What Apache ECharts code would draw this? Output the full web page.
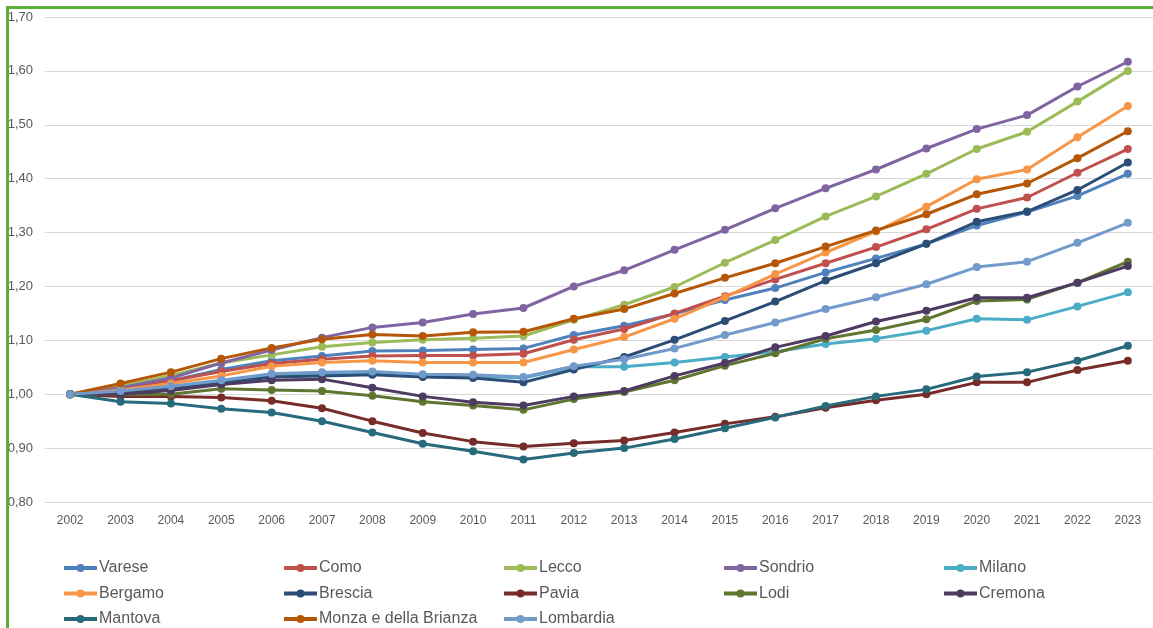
<!DOCTYPE html>
<html>
<head>
<meta charset="utf-8">
<script src="https://cdn.jsdelivr.net/npm/echarts@6/dist/echarts.min.js"></script>
<style>
  html, body { margin: 0; padding: 0; background: #fff; }
  #chart { width: 1153px; height: 628px; }
</style>
</head>
<body>
<div id="chart"></div>
<script>
// Indice della popolazione residente (2002 = 1,00) per provincia lombarda
const years = ['2002','2003','2004','2005','2006','2007','2008','2009','2010','2011','2012',
               '2013','2014','2015','2016','2017','2018','2019','2020','2021','2022','2023'];

const varese    = [1.000,1.010,1.025,1.046,1.062,1.071,1.080,1.081,1.083,1.085,1.110,1.127,1.149,1.175,1.197,1.226,1.252,1.279,1.313,1.338,1.368,1.409];
const como      = [1.000,1.012,1.025,1.042,1.057,1.065,1.071,1.072,1.072,1.075,1.101,1.121,1.150,1.182,1.213,1.243,1.273,1.306,1.344,1.365,1.411,1.455];
const lecco     = [1.000,1.015,1.035,1.058,1.073,1.088,1.096,1.101,1.104,1.108,1.138,1.166,1.199,1.244,1.286,1.330,1.367,1.409,1.455,1.487,1.543,1.600];
const sondrio   = [1.000,1.012,1.030,1.058,1.082,1.105,1.124,1.133,1.149,1.160,1.200,1.230,1.268,1.305,1.345,1.382,1.417,1.456,1.492,1.518,1.571,1.617];
const milano    = [1.000,1.004,1.012,1.022,1.033,1.037,1.040,1.036,1.034,1.030,1.051,1.051,1.059,1.069,1.079,1.093,1.103,1.118,1.140,1.138,1.163,1.189];
const bergamo   = [1.000,1.008,1.020,1.034,1.052,1.059,1.062,1.059,1.059,1.059,1.083,1.106,1.140,1.180,1.223,1.263,1.302,1.348,1.399,1.417,1.477,1.535];
const brescia   = [1.000,1.003,1.010,1.020,1.032,1.034,1.036,1.032,1.030,1.022,1.046,1.069,1.101,1.136,1.172,1.211,1.243,1.279,1.320,1.339,1.379,1.430];
const pavia     = [1.000,0.996,0.996,0.994,0.988,0.974,0.950,0.928,0.912,0.903,0.909,0.914,0.929,0.945,0.958,0.975,0.989,1.000,1.022,1.022,1.045,1.062];
const lodi      = [1.000,0.999,1.000,1.010,1.008,1.006,0.997,0.986,0.979,0.971,0.991,1.004,1.026,1.053,1.076,1.103,1.119,1.139,1.173,1.176,1.207,1.246];
const cremona   = [1.000,1.000,1.007,1.018,1.026,1.028,1.012,0.996,0.985,0.979,0.996,1.006,1.034,1.058,1.087,1.108,1.135,1.155,1.179,1.179,1.207,1.238];
const mantova   = [1.000,0.986,0.983,0.973,0.966,0.950,0.929,0.908,0.894,0.879,0.891,0.900,0.917,0.937,0.957,0.978,0.996,1.009,1.033,1.041,1.062,1.090];
const monza     = [1.000,1.020,1.041,1.066,1.086,1.102,1.111,1.108,1.115,1.116,1.140,1.158,1.187,1.216,1.243,1.274,1.304,1.334,1.371,1.391,1.438,1.488];
const lombardia = [1.000,1.006,1.015,1.026,1.038,1.041,1.042,1.037,1.036,1.032,1.052,1.065,1.085,1.110,1.133,1.158,1.180,1.204,1.236,1.246,1.281,1.318];

const seriesNames = ['Varese','Como','Lecco','Sondrio','Milano','Bergamo','Brescia','Pavia',
                     'Lodi','Cremona','Mantova','Monza e della Brianza','Lombardia'];
const seriesData = [varese, como, lecco, sondrio, milano, bergamo, brescia, pavia,
                    lodi, cremona, mantova, monza, lombardia];
const colors = ['#4F81BD','#C0504D','#9BBB59','#8064A2','#4BACC6','#F79646','#2C4D75',
                '#772C2A','#5F7530','#4D3B62','#276A7C','#B65708','#729ACA'];

const textColor = '#595959';
const fontFamily = '"Liberation Sans", Arial, sans-serif';

const chart = echarts.init(document.getElementById('chart'), null, { renderer: 'canvas' });

// one small legend per entry, laid out on a 5-column grid
const legends = seriesNames.map((name, i) => ({
  data: [name],
  left: 62 + (i % 5) * 220,
  top: 560 + Math.floor(i / 5) * 25.5,
  padding: 0,
  itemWidth: 33,
  itemHeight: 10,
  selectedMode: false,
  lineStyle: { width: 4 },
  itemStyle: { borderWidth: 0 },
  textStyle: { color: textColor, fontSize: 16, fontFamily: fontFamily, padding: [0, 0, 0, -3] }
}));

chart.setOption({
  animation: false,
  backgroundColor: '#ffffff',
  color: colors,
  grid: { left: 45, right: 0, top: 17, bottom: 126, containLabel: false },
  legend: legends,
  xAxis: {
    type: 'category',
    data: years,
    boundaryGap: true,
    axisLine: { show: false },
    axisTick: { show: false },
    axisLabel: { color: textColor, fontSize: 12, fontFamily: fontFamily, margin: 13, interval: 0 }
  },
  yAxis: {
    type: 'value',
    min: 0.8,
    max: 1.7,
    interval: 0.1,
    axisLine: { show: false },
    axisTick: { show: false },
    splitLine: { lineStyle: { color: '#D9D9D9', width: 1 } },
    axisLabel: {
      color: textColor, fontSize: 13, fontFamily: fontFamily, margin: 12,
      formatter: v => v.toFixed(2).replace('.', ',')
    }
  },
  series: seriesNames.map((name, i) => ({
    name: name,
    type: 'line',
    data: seriesData[i],
    symbol: 'circle',
    symbolSize: 8,
    lineStyle: { width: 3 },
    itemStyle: { color: colors[i] },
    emphasis: { disabled: true }
  })),
  graphic: [
    { type: 'line', shape: { x1: 6, y1: 7.5, x2: 1153, y2: 7.5 }, style: { stroke: '#58B03A', lineWidth: 3 }, z: 100 },
    { type: 'line', shape: { x1: 7.5, y1: 6, x2: 7.5, y2: 628 }, style: { stroke: '#58B03A', lineWidth: 3 }, z: 100 }
  ]
});
</script>
</body>
</html>
